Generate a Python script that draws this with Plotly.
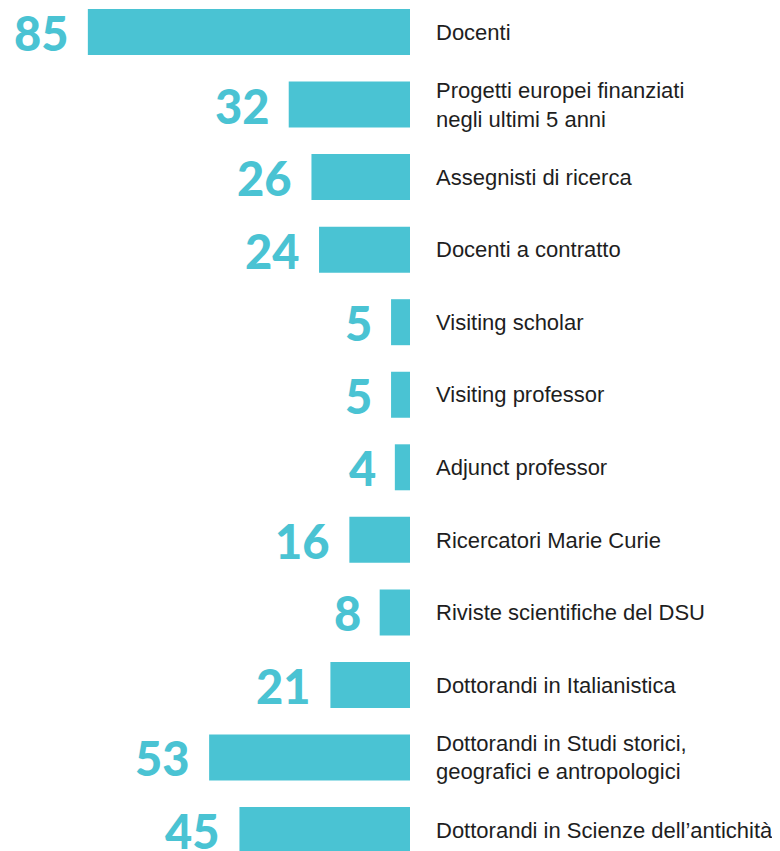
import plotly.graph_objects as go

categories = [
    "Docenti",
    "Progetti europei finanziati<br>negli ultimi 5 anni",
    "Assegnisti di ricerca",
    "Docenti a contratto",
    "Visiting scholar",
    "Visiting professor",
    "Adjunct professor",
    "Ricercatori Marie Curie",
    "Riviste scientifiche del DSU",
    "Dottorandi in Italianistica",
    "Dottorandi in Studi storici,<br>geografici e antropologici",
    "Dottorandi in Scienze dell\u2019antichità",
]
values = [85, 32, 26, 24, 5, 5, 4, 16, 8, 21, 53, 45]

TEAL = "#4AC3D3"

fig = go.Figure()
fig.add_trace(go.Bar(
    x=values, y=categories, orientation="h",
    marker=dict(color=TEAL, line=dict(width=0)),
    hoverinfo="skip",
))

for c, v in zip(categories, values):
    fig.add_annotation(
        x=v, y=c, xref="x", yref="y", text=str(v), showarrow=False,
        xanchor="right", yanchor="middle", xshift=-17, yshift=-1,
        font=dict(family="Lato", size=47, color=TEAL, weight=900),
    )

fig.update_layout(
    width=772, height=843,
    margin=dict(l=0, r=370, t=0, b=0),
    paper_bgcolor="white", plot_bgcolor="white",
    bargap=0.366,
    showlegend=False,
    xaxis=dict(range=[106.07, 0], showgrid=False, zeroline=False,
               showticklabels=False, showline=False, fixedrange=True),
    yaxis=dict(type="category", range=[11.289, -0.331], side="right",
               showgrid=False, zeroline=False, showline=False,
               ticks="", ticklabelstandoff=25,
               tickfont=dict(family="Liberation Sans", size=22, color="#1e1e1e"),
               fixedrange=True),
)

fig.write_html("out.html")
